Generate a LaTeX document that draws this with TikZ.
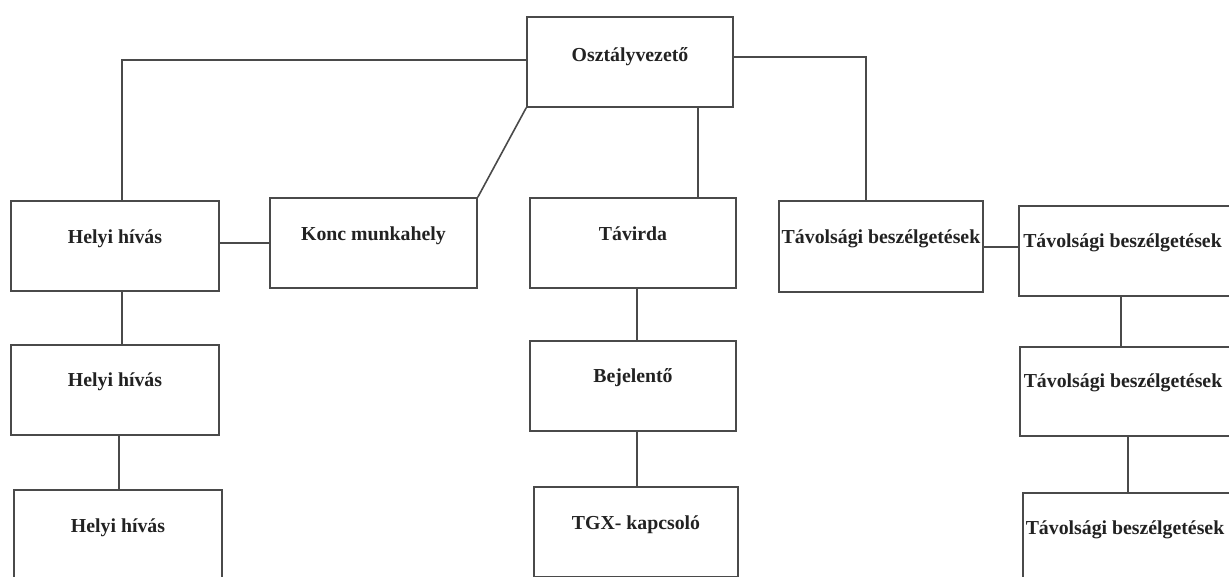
\documentclass[tikz,border=0pt]{standalone}
\usepackage{fontspec}
\setmainfont{Liberation Serif}
\begin{document}
\begin{tikzpicture}[x=1pt,y=-1pt,
  box/.style={draw=linegray, line width=1.6pt, rectangle, inner sep=0pt, minimum height=90pt},
  txt/.style={anchor=base, inner sep=0pt, text=textgray, font=\fontsize{19.8}{23}\selectfont\bfseries},
  conn/.style={draw=linegray, line width=1.6pt}]
\definecolor{linegray}{HTML}{4A4A4A}
\definecolor{textgray}{HTML}{222222}
\useasboundingbox (0,0) rectangle (1229,576);
\clip (0,0) rectangle (1229,576);
\fill[white] (0,0) rectangle (1229,576);
% boxes
\node[box, minimum width=206pt] (osz) at (630,62) {};
\node[box, minimum width=208pt] (h1) at (115,246) {};
\node[box, minimum width=207pt] (konc) at (373.5,243) {};
\node[box, minimum width=206pt] (tav) at (633,243) {};
\node[box, minimum width=204pt, minimum height=91pt] (t1) at (881,246.5) {};
\node[box, minimum width=211pt] (t2) at (1124.5,251) {};
\node[box, minimum width=208pt] (h2) at (115,390) {};
\node[box, minimum width=208pt] (h3) at (118,535) {};
\node[box, minimum width=206pt] (bej) at (633,386) {};
\node[box, minimum width=204pt] (tgx) at (636,532) {};
\node[box, minimum width=210pt, minimum height=89pt] (t3) at (1125,391.5) {};
\node[box, minimum width=210pt] (t4) at (1128,538) {};
% texts
\node[txt] (oszt) at ([yshift=-45pt]osz.north) {Osztályvezető};
\node[txt] (h1t) at ([yshift=-43pt]h1.north) {Helyi hívás};
\node[txt] (konct) at ([yshift=-43pt]konc.north) {Konc munkahely};
\node[txt] (tavt) at ([yshift=-43pt]tav.north) {Távirda};
\node[txt] (t1t) at ([yshift=-43pt]t1.north) {Távolsági beszélgetések};
\node[txt] (t2t) at ([yshift=-42pt,xshift=-2pt]t2.north) {Távolsági beszélgetések};
\node[txt] (h2t) at ([yshift=-42pt]h2.north) {Helyi hívás};
\node[txt] (h3t) at ([yshift=-43pt]h3.north) {Helyi hívás};
\node[txt] (bejt) at ([yshift=-42pt]bej.north) {Bejelentő};
\node[txt] (tgxt) at ([yshift=-43pt]tgx.north) {TGX- kapcsoló};
\node[txt] (t3t) at ([yshift=-41pt,xshift=-2pt]t3.north) {Távolsági beszélgetések};
\node[txt] (t4t) at ([yshift=-42pt,xshift=-3pt]t4.north) {Távolsági beszélgetések};
% connectors
\draw[conn] ([yshift=2pt]osz.west) -| ([xshift=7pt]h1.north);
\draw[conn] ([yshift=3pt]h1.east) -- ([yshift=3pt]h1.east -| konc.west);
\draw[conn] (osz.south west) -- (konc.north east);
\draw[conn] ([xshift=68pt]osz.south) -- ([xshift=65pt]tav.north);
\draw[conn] ([yshift=5pt]osz.east) -| ([xshift=-15pt]t1.north);
\draw[conn] ([yshift=-0.5pt]t1.east) -- ([yshift=-0.5pt]t1.east -| t2.west);
\draw[conn] ([xshift=7pt]h1.south) -- ([xshift=7pt]h2.north);
\draw[conn] ([xshift=4pt]h2.south) -- ([xshift=1pt]h3.north);
\draw[conn] ([xshift=4pt]tav.south) -- ([xshift=4pt]bej.north);
\draw[conn] ([xshift=4pt]bej.south) -- ([xshift=1pt]tgx.north);
\draw[conn] ([xshift=-3.5pt]t2.south) -- ([xshift=-4pt]t3.north);
\draw[conn] ([xshift=3pt]t3.south) -- ([xshift=0pt]t4.north);
\end{tikzpicture}
\end{document}
